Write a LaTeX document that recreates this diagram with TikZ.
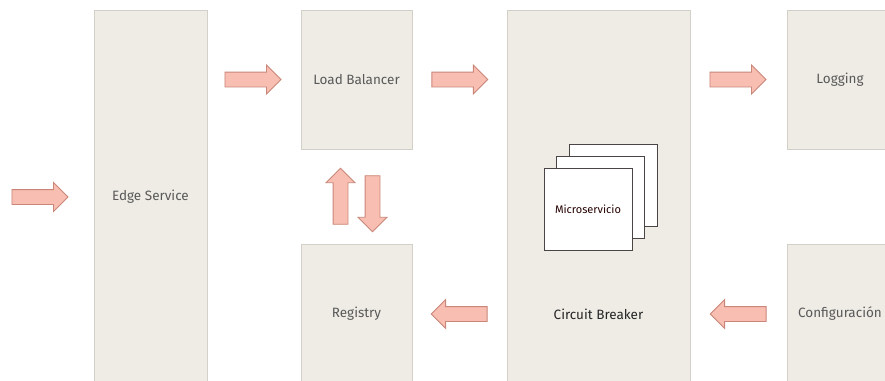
\documentclass[tikz,border=0pt]{standalone}
\usepackage{fontspec}
\setmainfont{Fira Sans}
\usepackage{xcolor}
\usetikzlibrary{positioning}
\usetikzlibrary{calc}
\usetikzlibrary{shapes.arrows}

\definecolor{boxfill}{HTML}{EEECE5}
\definecolor{boxline}{HTML}{D2D0C8}
\definecolor{arrowfill}{HTML}{F8BEB1}
\definecolor{arrowline}{HTML}{C98679}
\definecolor{labeltext}{HTML}{595959}
\definecolor{msline}{HTML}{4A4444}

\begin{document}
\begin{tikzpicture}
                    [
                    x=1pt, y=-1pt,
                    box/.style={shape = rectangle, draw=boxline, fill=boxfill, line width=0.8pt, inner sep=0pt, text=labeltext, font=\fontsize{13.5}{15}\selectfont},
                    barrow/.style={single arrow, draw=arrowline, fill=arrowfill, line width=0.9pt, minimum height=56pt, inner xsep=0pt, inner ysep=7pt, single arrow head extend=7pt},
                    vbarrow/.style={barrow, inner xsep=7pt, inner ysep=0pt},
                    msbox/.style={shape = rectangle, draw=msline, fill=white, line width=0.8pt, minimum width=88pt, minimum height=82pt, inner sep=0pt},
                    ]
                    \fill[white] (0,0) rectangle (885,380);
                    \useasboundingbox (0,0) rectangle (885,380);
                    % bloques
                    \node[box, minimum width=113pt, minimum height=374pt] (edge) at (150.5,197) {Edge Service};
                    \node[box, minimum width=111pt, minimum height=139pt] (lb) at (356.5,79.5) {Load Balancer};
                    \node[box, minimum width=111pt, minimum height=140pt] (reg) at (356.5,314) {Registry};
                    \node[box, minimum width=183pt, minimum height=374pt] (cb) at (598.5,197) {};
                    \node[box, minimum width=106pt, minimum height=139pt] (log) at (840,79.5) {Logging};
                    \node[box, minimum width=106pt, minimum height=140pt] (cfg) at (840,314) {Configuración};

                    \node[text=black!85, font=\fontsize{13.5}{15}\selectfont] (cbtxt) at (cb.center |- reg) {Circuit Breaker};

                    % microservicios
                    \node[msbox] (ms3) at (613,185) {};
                    \node[msbox] (ms2) at (600.5,197) {};
                    \node[msbox, text=black!85!red, font=\fontsize{11}{12}\selectfont] (ms1) at (588,209) {Microservicio};

                    % flechas
                    \node[barrow, anchor=tip, xshift=-25pt] (in) at (edge.west) {};
                    \node[barrow, left=19pt of lb] (edge2lb) {};
                    \node[barrow, right=19pt of lb] (lb2cb) {};
                    \node[barrow, left=20pt of log] (cb2log) {};
                    \node[barrow, shape border rotate=180, anchor=tail, xshift=-19pt] (cb2reg) at (cb.west |- reg) {};
                    \node[barrow, shape border rotate=180, anchor=tail, xshift=-20pt] (cfg2cb) at (cfg.west) {};
                    \node[vbarrow, shape border rotate=90, xshift=-16pt, yshift=-3.5pt] (reg2lb) at ($(lb.south)!0.5!(reg.north)$) {};
                    \node[vbarrow, shape border rotate=270, xshift=16pt, yshift=-3.5pt] (lb2reg) at ($(lb.south)!0.5!(reg.north)$) {};
                \end{tikzpicture}
\end{document}
